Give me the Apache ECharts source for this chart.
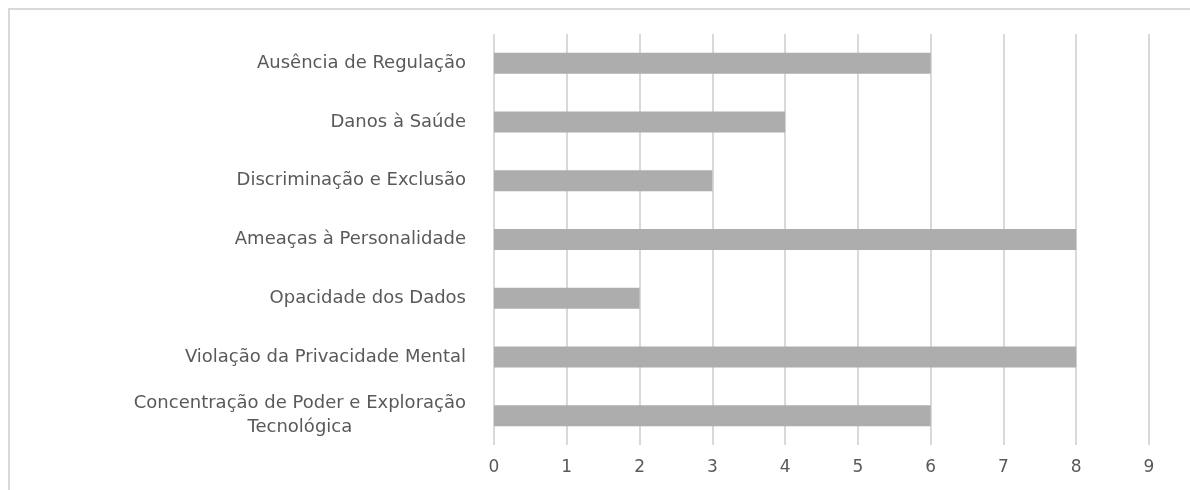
<!DOCTYPE html>
<html>
<head>
<meta charset="utf-8">
<script src="https://cdn.jsdelivr.net/npm/echarts@6/dist/echarts.min.js"></script>
<style>
html,body{margin:0;padding:0;background:#fff;}
#c{width:1190px;height:490px;}
</style>
</head>
<body>
<div id="c"></div>
<script>
const categories = [
  'Ausência de Regulação',
  'Danos à Saúde',
  'Discriminação e Exclusão',
  'Ameaças à Personalidade',
  'Opacidade dos Dados',
  'Violação da Privacidade Mental',
  'Concentração de Poder e Exploração\nTecnológica'
];
const values = [6, 4, 3, 8, 2, 8, 6];
const xTicks = [0, 1, 2, 3, 4, 5, 6, 7, 8, 9];

const labelFont = '18px "DejaVu Sans"';
const cv = document.createElement('canvas').getContext('2d');
cv.font = labelFont;

const catData = categories.map(function (c) {
  if (c.indexOf('\n') < 0) return c;
  const w = Math.max.apply(null, c.split('\n').map(function (s) { return cv.measureText(s).width; }));
  return {value: c, textStyle: {align: 'center', padding: [0, w, 0, 0]}};
});

const chart = echarts.init(document.getElementById('c'), null, {renderer: 'canvas'});
chart.setOption({
  animation: false,
  backgroundColor: '#fff',
  graphic: [
    {type: 'line', shape: {x1: 8, y1: 9, x2: 1190, y2: 9}, style: {stroke: '#d9d9d9', lineWidth: 2}},
    {type: 'line', shape: {x1: 9, y1: 8, x2: 9, y2: 490}, style: {stroke: '#d9d9d9', lineWidth: 2}}
  ],
  grid: {left: 494, right: 41, top: 34, bottom: 45, containLabel: false},
  xAxis: {
    type: 'value',
    min: xTicks[0],
    max: xTicks[xTicks.length - 1],
    interval: 1,
    axisLine: {show: false},
    axisTick: {show: false},
    splitLine: {show: true, lineStyle: {color: '#d9d9d9', width: 2}},
    axisLabel: {color: '#595959', fontSize: 17, fontFamily: 'DejaVu Sans', margin: 14}
  },
  yAxis: {
    type: 'category',
    data: catData,
    inverse: true,
    axisLine: {show: false},
    axisTick: {show: false},
    axisLabel: {color: '#595959', fontSize: 18, fontFamily: 'DejaVu Sans', margin: 28, align: 'right', lineHeight: 24}
  },
  series: [{
    type: 'bar',
    data: values,
    barWidth: 21,
    itemStyle: {color: '#adadad'}
  }]
});
</script>
</body>
</html>
